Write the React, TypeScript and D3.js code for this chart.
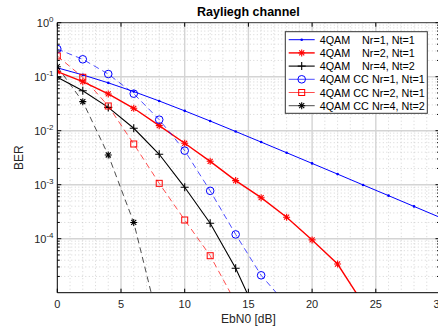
import React from "react";
import * as d3 from "d3";

const ebn0 = [0, 2, 4, 6, 8, 10, 12, 14, 16, 18, 20, 22, 24, 26, 28, 30];

const berNr1 = [0.146, 0.108, 0.077, 0.053, 0.0355, 0.0233, 0.0151, 0.00967, 0.00616, 0.00391, 0.00248, 0.00157, 0.00099, 0.000627, 0.000396, 0.00025];
const berNr2 = [0.124, 0.0808, 0.0479, 0.026, 0.0124, 0.00585, 0.00271, 0.00119, 0.000575, 0.00025, 0.000095, 0.000034, 0.0000063];
const berNr4 = [0.0975, 0.055, 0.027, 0.0111, 0.00366, 0.000895, 0.000193, 0.0000283, 0.0000027];
const berCC1 = [0.326, 0.21, 0.112, 0.0485, 0.016, 0.00427, 0.00077, 0.00012, 0.000021, 0.000006];
const berCC2 = [0.242, 0.0975, 0.0287, 0.00567, 0.00106, 0.000222, 0.0000484, 0.0000066];
const berCC4 = [0.153, 0.0345, 0.00355, 0.0002, 0.0000025];

const xTicks = [0, 5, 10, 15, 20, 25, 30];
const yTickExps = [0, -1, -2, -3, -4];

const legendLabels = [
  ["4QAM", "Nr=1, Nt=1"],
  ["4QAM", "Nr=2, Nt=1"],
  ["4QAM", "Nr=4, Nt=2"],
  ["4QAM CC Nr=1, Nt=1", ""],
  ["4QAM CC Nr=2, Nt=1", ""],
  ["4QAM CC Nr=4, Nt=2", ""],
];

const W = 438, H = 328;
const L = 57.3, R = 439.5, T = 22.7, B = 292.7;
const FONT = "'Liberation Sans', Arial, Helvetica, sans-serif";

type Series = { vals: number[]; color: string; width: number; dash?: string; marker: string };

const series: Series[] = [
  { vals: berNr1, color: "#0000ff", width: 1, marker: "dot" },
  { vals: berNr2, color: "#ff0000", width: 1.4, marker: "star" },
  { vals: berNr4, color: "#000000", width: 1.1, marker: "plus" },
  { vals: berCC1, color: "#0000ff", width: 0.7, dash: "6,4", marker: "circle" },
  { vals: berCC2, color: "#ff0000", width: 0.7, dash: "6,4", marker: "square" },
  { vals: berCC4, color: "#000000", width: 0.7, dash: "6,4", marker: "star" },
];

function Marker({ type, x, y, color }: { type: string; x: number; y: number; color: string }) {
  if (type === "dot") return <circle cx={x} cy={y} r={1.3} fill={color} />;
  if (type === "circle") return <circle cx={x} cy={y} r={3.8} fill="none" stroke={color} strokeWidth={1} />;
  if (type === "square") return <rect x={x - 3} y={y - 3} width={6} height={6} fill="none" stroke={color} strokeWidth={1} />;
  if (type === "plus")
    return (
      <g stroke={color} strokeWidth={1.1}>
        <line x1={x - 4} x2={x + 4} y1={y} y2={y} />
        <line x1={x} x2={x} y1={y - 4} y2={y + 4} />
      </g>
    );
  if (type === "star") {
    const s = 3.5;
    const d = s * 0.72;
    return (
      <g stroke={color} strokeWidth={1.1}>
        <line x1={x - s} x2={x + s} y1={y} y2={y} />
        <line x1={x} x2={x} y1={y - s} y2={y + s} />
        <line x1={x - d} x2={x + d} y1={y - d} y2={y + d} />
        <line x1={x - d} x2={x + d} y1={y + d} y2={y - d} />
      </g>
    );
  }
  return null;
}

export default function App() {
  const x = d3.scaleLinear().domain([0, 30]).range([L, R]);
  const y = d3.scaleLog().domain([1e-5, 1]).range([B, T]);

  const minorY: number[] = [];
  for (let e = -5; e < 0; e++) for (let k = 2; k <= 9; k++) minorY.push(k * Math.pow(10, e));
  const minorX: number[] = [];
  for (let v = 1; v < 30; v++) if (v % 5 !== 0) minorX.push(v);

  const line = d3
    .line<[number, number]>()
    .x((d) => x(d[0]))
    .y((d) => y(d[1]));

  const legX = 285.3, legY = 31.7, legW = 142, legH = 81.6;

  return (
    <svg width={W} height={H} style={{ position: "absolute", left: 0, top: 0, background: "#fff" }} fontFamily={FONT}>
      <defs>
        <clipPath id="plotclip">
          <rect x={L} y={T} width={R - L} height={B - T} />
        </clipPath>
      </defs>
      <rect x={L} y={T} width={R - L} height={B - T} fill="#fff" />
      {/* minor grid */}
      <g stroke="#b8b8b8" strokeWidth={0.6} strokeDasharray="1,2.5">
        {minorX.map((v) => (
          <line key={"mx" + v} x1={x(v)} x2={x(v)} y1={T} y2={B} />
        ))}
        {minorY.map((v, i) => (
          <line key={"my" + i} x1={L} x2={R} y1={y(v)} y2={y(v)} />
        ))}
      </g>
      {/* major grid */}
      <g stroke="#d4d4d4" strokeWidth={1.4}>
        {xTicks.slice(1).map((v) => (
          <line key={"gx" + v} x1={x(v)} x2={x(v)} y1={T} y2={B} />
        ))}
        {yTickExps.slice(1).map((e) => (
          <line key={"gy" + e} x1={L} x2={R} y1={y(Math.pow(10, e))} y2={y(Math.pow(10, e))} />
        ))}
      </g>
      {/* data */}
      <g clipPath="url(#plotclip)">
        {series.map((s, i) => {
          const pts = s.vals.map((v, j) => [ebn0[j], v] as [number, number]);
          return (
            <g key={"s" + i}>
              <path d={line(pts) || ""} fill="none" stroke={s.color} strokeWidth={s.width} strokeDasharray={s.dash} />
              {pts.map((p, j) => (
                <Marker key={j} type={s.marker} x={x(p[0])} y={y(p[1])} color={s.color} />
              ))}
            </g>
          );
        })}
      </g>
      {/* axes box */}
      <g stroke="#000" strokeWidth={1} fill="none">
        <line x1={L} x2={R} y1={B} y2={B} />
        <line x1={L} x2={L} y1={T} y2={B} />
        <line x1={L} x2={R} y1={T} y2={T} stroke="#333" />
        <line x1={R} x2={R} y1={T} y2={B} stroke="#333" />
      </g>
      {/* ticks */}
      <g stroke="#000" strokeWidth={1}>
        {xTicks.map((v) => (
          <g key={"tx" + v}>
            <line x1={x(v)} x2={x(v)} y1={B} y2={B - 4} />
            <line x1={x(v)} x2={x(v)} y1={T} y2={T + 4} />
          </g>
        ))}
        {yTickExps.map((e) => (
          <g key={"ty" + e}>
            <line x1={L} x2={L + 4} y1={y(Math.pow(10, e))} y2={y(Math.pow(10, e))} />
            <line x1={R} x2={R - 4} y1={y(Math.pow(10, e))} y2={y(Math.pow(10, e))} />
          </g>
        ))}
        {minorY.map((v, i) => (
          <g key={"mty" + i}>
            <line x1={L} x2={L + 2.5} y1={y(v)} y2={y(v)} />
            <line x1={R} x2={R - 2.5} y1={y(v)} y2={y(v)} />
          </g>
        ))}
      </g>
      {/* tick labels */}
      <g fontSize={11} fill="#262626">
        {xTicks.map((v) => (
          <text key={"lx" + v} x={x(v)} y={308} textAnchor="middle">
            {v}
          </text>
        ))}
        {yTickExps.map((e) => (
          <text key={"ly" + e} x={53.5} y={y(Math.pow(10, e)) + 4.5} textAnchor="end">
            <tspan>10</tspan>
            <tspan dy={-5} fontSize={8}>
              {e === 0 ? "0" : "-" + Math.abs(e)}
            </tspan>
          </text>
        ))}
      </g>
      {/* labels */}
      <text x={(L + R) / 2} y={16} textAnchor="middle" fontSize={12.5} fontWeight="bold" fill="#000">
        Rayliegh channel
      </text>
      <text x={(L + R) / 2} y={323} textAnchor="middle" fontSize={12} fill="#262626">
        EbN0 [dB]
      </text>
      <text transform={`translate(23,${(T + B) / 2}) rotate(-90)`} textAnchor="middle" fontSize={12} fill="#262626">
        BER
      </text>
      {/* legend */}
      <g>
        <rect x={legX} y={legY} width={legW} height={legH} fill="#fff" stroke="#333" strokeWidth={1} />
        {series.map((s, i) => {
          const cy = 39.7 + i * 13.2;
          return (
            <g key={"lg" + i}>
              <line x1={288.7} x2={314.7} y1={cy} y2={cy} stroke={s.color} strokeWidth={s.width} />
              <Marker type={s.marker} x={301.7} y={cy} color={s.color} />
              <text x={319.7} y={cy + 4} fontSize={10.8} fill="#000">
                {legendLabels[i][0]}
              </text>
              {legendLabels[i][1] && (
                <text x={362} y={cy + 4} fontSize={10.8} fill="#000">
                  {legendLabels[i][1]}
                </text>
              )}
            </g>
          );
        })}
      </g>
    </svg>
  );
}
